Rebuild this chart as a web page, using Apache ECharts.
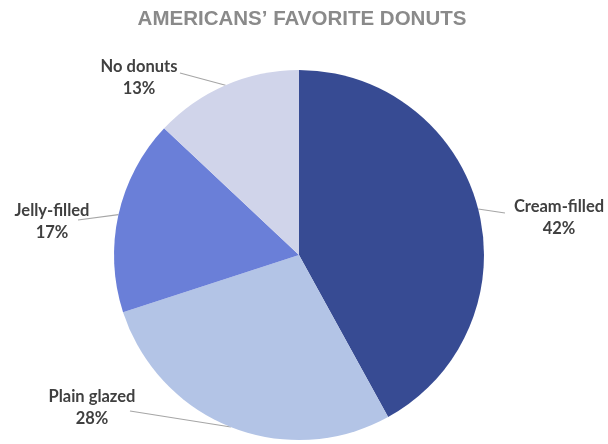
<!DOCTYPE html>
<html>
<head>
<meta charset="utf-8">
<script src="https://cdn.jsdelivr.net/npm/echarts@6/dist/echarts.min.js"></script>
<style>
  html, body { margin: 0; padding: 0; background: #fff; }
  #chart { width: 608px; height: 444px; }
</style>
</head>
<body>
<div id="chart"></div>
<script>
// data
const categories = ['Cream-filled', 'Plain glazed', 'Jelly-filled', 'No donuts'];
const shares = [42, 28, 17, 13];
const sliceColors = ['#374b93', '#b3c4e6', '#6a7fd8', '#d0d4ea'];

// where each label sits: [labelX, labelY, lineEndX, lineEndY]
const labelSpots = [
  [559, 218, 505, 213],
  [92, 408, 130, 411],
  [52, 222, 78, 220],
  [139, 78, 180, 73]
];

const chart = echarts.init(document.getElementById('chart'));

chart.setOption({
  animation: false,
  color: sliceColors,
  title: {
    text: 'AMERICANS\u2019 FAVORITE DONUTS',
    left: 297,
    textAlign: 'center',
    top: 4,
    textStyle: {
      fontFamily: 'Liberation Sans',
      fontWeight: 'bold',
      fontSize: 20.5,
      color: '#8a8a8a'
    }
  },
  series: [{
    type: 'pie',
    center: [299, 255],
    radius: 185,
    startAngle: 90,
    clockwise: true,
    data: categories.map((c, i) => ({ name: c, value: shares[i] })),
    itemStyle: { borderWidth: 0 },
    label: {
      show: true,
      formatter: '{b}\n{c}%',
      fontFamily: 'Lato',
      fontWeight: 'bold',
      fontSize: 16.5,
      lineHeight: 22,
      color: '#404040',
      align: 'center'
    },
    labelLine: {
      show: true,
      length: 10,
      length2: 0,
      lineStyle: { color: '#a6a6a6', width: 1.2 }
    },
    emphasis: { disabled: true },
    labelLayout: function (params) {
      const s = labelSpots[params.dataIndex];
      const pts = params.labelLinePoints;
      const start = pts ? pts[0] : [s[2], s[3]];
      return {
        x: s[0],
        y: s[1],
        align: 'center',
        verticalAlign: 'middle',
        labelLinePoints: [start, [s[2], s[3]], [s[2], s[3]]]
      };
    }
  }]
});
</script>
</body>
</html>
